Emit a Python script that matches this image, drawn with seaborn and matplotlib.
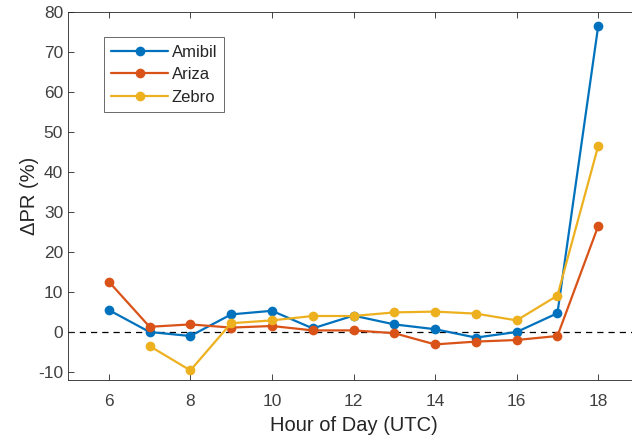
import numpy as np
import pandas as pd
import seaborn as sns
import matplotlib.pyplot as plt

hours = [6, 7, 8, 9, 10, 11, 12, 13, 14, 15, 16, 17, 18]
amibil = [5.5, 0.0, -1.0, 4.4, 5.3, 0.9, 4.1, 1.9, 0.7, -1.4, 0.0, 4.7, 76.5]
ariza = [12.6, 1.3, 1.9, 1.1, 1.5, 0.4, 0.4, -0.3, -3.1, -2.4, -2.0, -1.0, 26.5]
zebro = [np.nan, -3.5, -9.6, 2.2, 2.9, 4.0, 4.0, 4.9, 5.1, 4.6, 2.9, 9.1, 46.5]
names = ['Amibil', 'Ariza', 'Zebro']
colors = ['#0072BD', '#D95319', '#EDB120']

df = pd.DataFrame({'hour': hours * 3,
                   'dpr': amibil + ariza + zebro,
                   'site': [n for n in names for _ in hours]})
df = df.dropna()

sns.set_style('ticks')
plt.rcParams['font.family'] = ['Liberation Sans', 'DejaVu Sans']
plt.rcParams['xtick.direction'] = 'in'
plt.rcParams['ytick.direction'] = 'in'
plt.rcParams['axes.unicode_minus'] = False

fig = plt.figure(figsize=(6.32, 4.4), dpi=100)
ax = fig.add_axes([68/632, 60/440, (639-68)/632, (380-12)/440])

sns.lineplot(data=df, x='hour', y='dpr', hue='site', palette=colors,
             marker='o', markersize=7, markeredgewidth=0, linewidth=1.6,
             ax=ax)
ax.axhline(0, color='black', linestyle=(0, (5, 4)), linewidth=0.9, zorder=0)

ax.set_xlim(5, 19)
ax.set_ylim(-12, 80)
ax.set_xticks(range(6, 19, 2))
ax.set_yticks(range(-10, 81, 10))
ax.set_xlabel('Hour of Day (UTC)', fontsize=14.5, color='#262626', labelpad=5)
ax.set_ylabel('ΔPR (%)', fontsize=14.5, color='#262626', labelpad=-1)
ax.tick_params(labelsize=12.5, colors='#262626', labelcolor='#404040',
               length=4, width=0.6, top=True, right=True)
ax.tick_params(axis='x', pad=10)
for s in ax.spines.values():
    s.set_visible(True)
    s.set_color('#262626')
    s.set_linewidth(0.6)

leg = ax.legend(loc='upper left', bbox_to_anchor=(0.063, 0.932), fontsize=12,
                frameon=True, fancybox=False, edgecolor='#262626',
                handlelength=3.4, handletextpad=0.2, borderpad=0.45,
                labelspacing=0.45, borderaxespad=0)
leg.get_frame().set_linewidth(0.6)

fig.savefig('out.png', dpi=100)
